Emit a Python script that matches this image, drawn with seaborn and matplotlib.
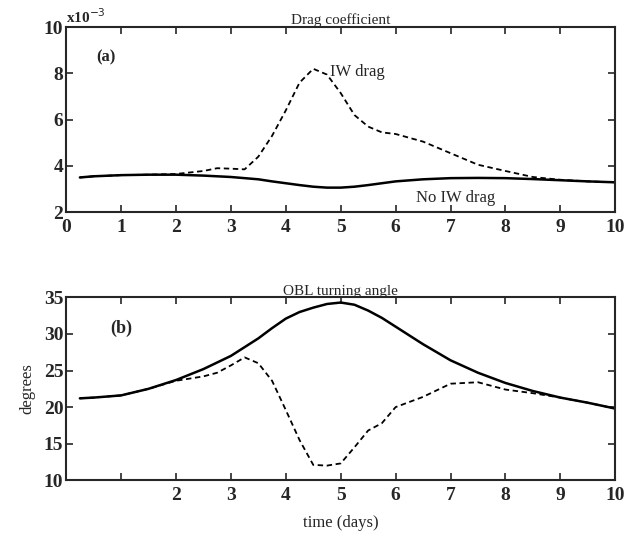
import pandas as pd
import matplotlib
matplotlib.use('Agg')
import matplotlib.pyplot as plt
import seaborn as sns

# time axis (days)
time = [0.25, 0.5, 1.0, 1.5, 2.0, 2.5, 2.75, 3.0, 3.25, 3.5, 3.75, 4.0, 4.25, 4.5,
        4.75, 5.0, 5.25, 5.5, 5.75, 6.0, 6.5, 7.0, 7.5, 8.0, 8.5, 9.0, 9.5, 10.0]

# drag coefficient (x10^-3)
drag_no_iw = [3.5, 3.55, 3.6, 3.62, 3.62, 3.58, 3.55, 3.52, 3.47, 3.42, 3.33, 3.25, 3.17, 3.1,
              3.06, 3.06, 3.1, 3.17, 3.25, 3.33, 3.42, 3.47, 3.48, 3.47, 3.43, 3.38, 3.33, 3.29]
drag_iw = [3.5, 3.55, 3.6, 3.62, 3.65, 3.78, 3.9, 3.88, 3.85, 4.4, 5.3, 6.4, 7.6, 8.2,
           7.95, 7.15, 6.2, 5.7, 5.45, 5.38, 5.05, 4.55, 4.05, 3.78, 3.52, 3.4, 3.33, 3.29]

# OBL turning angle (degrees)
angle_no_iw = [21.2, 21.3, 21.6, 22.5, 23.7, 25.2, 26.1, 27.0, 28.2, 29.4, 30.8, 32.1, 33.0, 33.6,
               34.1, 34.3, 34.0, 33.2, 32.2, 31.0, 28.6, 26.4, 24.7, 23.3, 22.2, 21.3, 20.6, 19.8]
angle_iw = [21.2, 21.3, 21.6, 22.5, 23.6, 24.2, 24.7, 25.7, 26.8, 26.0, 23.6, 19.6, 15.5, 12.1,
            12.0, 12.3, 14.5, 16.8, 17.8, 20.0, 21.4, 23.2, 23.4, 22.4, 21.9, 21.3, 20.6, 19.8]

cases = ['No IW drag', 'IW drag']

drag_df = pd.DataFrame({
    'time': time * 2,
    'value': drag_no_iw + drag_iw,
    'case': [cases[0]] * len(time) + [cases[1]] * len(time),
})
angle_df = pd.DataFrame({
    'time': time * 2,
    'value': angle_no_iw + angle_iw,
    'case': [cases[0]] * len(time) + [cases[1]] * len(time),
})

sns.set_style('ticks')
plt.rcParams['font.family'] = ['Liberation Serif', 'DejaVu Serif']
plt.rcParams['xtick.direction'] = 'in'
plt.rcParams['ytick.direction'] = 'in'
plt.rcParams['axes.linewidth'] = 1.5

fig = plt.figure(figsize=(6.24, 5.33), dpi=100)
ax1 = fig.add_axes([0.106, 0.602, 0.880, 0.347])
ax2 = fig.add_axes([0.106, 0.099, 0.880, 0.343])

dash_map = {'No IW drag': '', 'IW drag': (3, 2)}
width_map = {'No IW drag': 1.8, 'IW drag': 1.3}

for ax, df in [(ax1, drag_df), (ax2, angle_df)]:
    sns.lineplot(data=df, x='time', y='value', style='case', dashes=dash_map,
                 color='black', legend=False, ax=ax, estimator=None)
    for line, c in zip(ax.get_lines(), cases):
        line.set_linewidth(width_map[c])
    ax.set_xlim(0, 10)
    ax.set_xticks(range(0, 11))
    ax.tick_params(top=True, right=True, length=5, width=1.2, labelsize=14)
    ax.tick_params(axis='x', pad=5)
    ax.tick_params(axis='y', pad=2)
    ax.set_xlabel('')
    ax.set_ylabel('')

# panel (a)
ax1.set_ylim(2, 10)
ax1.set_yticks([2, 4, 6, 8, 10])
ax1.set_title('Drag coefficient', fontsize=11, pad=2)
ax1.text(0.0, 1.005, 'x10$^{-3}$', transform=ax1.transAxes, fontsize=11,
         fontweight='bold', ha='left', va='bottom')
ax1.text(0.55, 8.7, '(a)', fontsize=12, fontweight='bold', va='center')
ax1.text(4.8, 8.05, 'IW drag', fontsize=12, va='center')
ax1.text(6.37, 2.6, 'No IW drag', fontsize=12, va='center')

# panel (b)
ax2.set_ylim(10, 35)
ax2.set_yticks([10, 15, 20, 25, 30, 35])
ax2.set_xticklabels(['', ''] + [str(i) for i in range(2, 11)])
ax2.set_title('OBL turning angle', fontsize=11, pad=2)
ax2.text(0.8, 30.8, '(b)', fontsize=13, fontweight='bold', va='center')
ax2.set_ylabel('degrees', fontsize=12, labelpad=6)
ax2.set_xlabel('time (days)', fontsize=12, labelpad=8)

for ax in (ax1, ax2):
    for lab in ax.get_xticklabels() + ax.get_yticklabels():
        lab.set_fontweight('bold')

fig.savefig('out.png', dpi=100)
plt.close(fig)
